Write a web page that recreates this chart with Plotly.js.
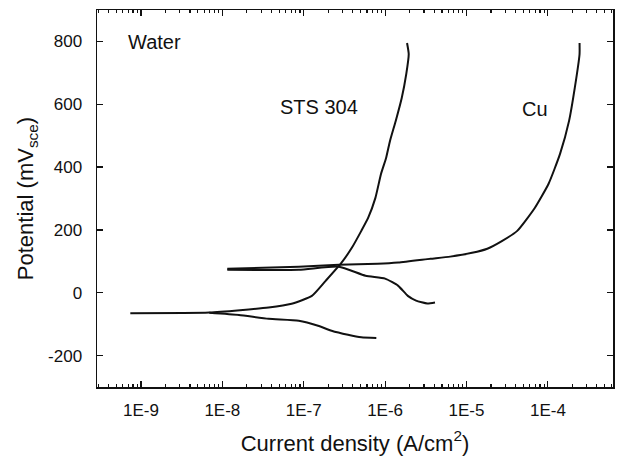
<!DOCTYPE html>
<html>
<head>
<meta charset="utf-8">
<script src="https://cdn.plot.ly/plotly-3.0.1.min.js"></script>
<style>html,body{margin:0;padding:0;background:#fff;}#chart{width:617px;height:472px;}</style>
</head>
<body>
<div id="chart"></div>
<script>
// STS 304 anodic branch: current density (A/cm2) and potential (mV SCE)
const stsAnodicI = [7.4e-10, 6.9e-9, 3.7e-8, 7.1e-8, 1.26e-7, 1.86e-7, 2.9e-7, 3.9e-7, 5.1e-7, 6.2e-7, 7.6e-7, 8.9e-7, 1.03e-6, 1.15e-6, 1.35e-6, 1.6e-6, 1.82e-6, 1.95e-6, 1.86e-6];
const stsAnodicE = [-65, -63, -47, -35, -10, 38, 95, 143, 197, 239, 302, 378, 430, 484, 547, 620, 697, 760, 795];
// STS 304 cathodic branch
const stsCathI = [6.9e-9, 1.6e-8, 3.7e-8, 8.7e-8, 1.5e-7, 2.2e-7, 3.5e-7, 5.1e-7, 7.8e-7];
const stsCathE = [-64, -71, -83, -89, -105, -121, -134, -142, -144];
// Cu anodic branch
const cuAnodicI = [1.15e-8, 8.7e-8, 2.7e-7, 8.1e-7, 1.45e-6, 3.6e-6, 6.3e-6, 1.17e-5, 1.8e-5, 2.75e-5, 4.2e-5, 6.9e-5, 1.02e-4, 1.41e-4, 1.82e-4, 2.14e-4, 2.45e-4, 2.45e-4];
const cuAnodicE = [76, 83, 89, 92, 96, 108, 115, 127, 140, 165, 197, 270, 347, 442, 547, 652, 760, 795];
// Cu cathodic branch
const cuCathI = [1.15e-8, 8.7e-8, 2.7e-7, 5.75e-7, 1.0e-6, 1.45e-6, 1.9e-6, 2.4e-6, 3.3e-6, 4.1e-6];
const cuCathE = [73, 73, 83, 54, 45, 22, -10, -25, -34, -31];
// Axis ticks
const xTickVals = [1e-9, 1e-8, 1e-7, 1e-6, 1e-5, 1e-4];
const xTickText = ['1E-9', '1E-8', '1E-7', '1E-6', '1E-5', '1E-4'];
const yTickVals = [-200, 0, 200, 400, 600, 800];
const yTickText = ['-200', '0', '200', '400', '600', '800'];

const lineStyle = {color: '#111', width: 2, shape: 'spline', smoothing: 0.5};
function tr(x, y) { return {x: x, y: y, type: 'scatter', mode: 'lines', line: lineStyle, showlegend: false, hoverinfo: 'skip'}; }

const data = [tr(stsAnodicI, stsAnodicE), tr(stsCathI, stsCathE), tr(cuAnodicI, cuAnodicE), tr(cuCathI, cuCathE)];

const font = {family: 'Liberation Sans, Arial, sans-serif', color: '#111'};
const layout = {
  width: 617, height: 472,
  margin: {l: 97, r: 4, t: 10, b: 85},
  paper_bgcolor: '#fff', plot_bgcolor: '#fff',
  font: Object.assign({size: 17}, font),
  showlegend: false,
  xaxis: {
    type: 'log', range: [-9.54, -3.2],
    tickvals: xTickVals, ticktext: xTickText,
    ticks: 'inside', ticklen: 6, tickwidth: 1.2, tickcolor: '#111',
    minor: {ticks: 'inside', ticklen: 3, dtick: 'D1', tickcolor: '#111', showgrid: false},
    showline: true, mirror: 'ticks', linecolor: '#111', linewidth: 1.5,
    showgrid: false, zeroline: false,
    ticklabelstandoff: 7,
    tickfont: Object.assign({size: 17}, font),
    title: {text: 'Current density (A/cm<sup>2</sup>)', font: Object.assign({size: 22}, font), standoff: 16}
  },
  yaxis: {
    range: [-300, 900],
    tickvals: yTickVals, ticktext: yTickText,
    ticks: 'inside', ticklen: 6, tickwidth: 1.2, tickcolor: '#111',
    showline: true, mirror: 'ticks', linecolor: '#111', linewidth: 1.5,
    showgrid: false, zeroline: false,
    ticklabelstandoff: 10,
    tickfont: Object.assign({size: 17}, font),
    title: {text: 'Potential (mV<sub>sce</sub>)', font: Object.assign({size: 22}, font), standoff: 8}
  },
  annotations: [
    {text: 'Water', x: 0.112, y: 0.915, xref: 'paper', yref: 'paper', xanchor: 'center', yanchor: 'middle', showarrow: false, font: Object.assign({size: 20}, font)},
    {text: 'STS 304', x: -6.81, y: 590, xref: 'x', yref: 'y', xanchor: 'center', yanchor: 'middle', showarrow: false, font: Object.assign({size: 20}, font)},
    {text: 'Cu', x: -4.16, y: 585, xref: 'x', yref: 'y', xanchor: 'center', yanchor: 'middle', showarrow: false, font: Object.assign({size: 20}, font)}
  ]
};

Plotly.newPlot('chart', data, layout, {staticPlot: true, displayModeBar: false});
</script>
</body>
</html>
